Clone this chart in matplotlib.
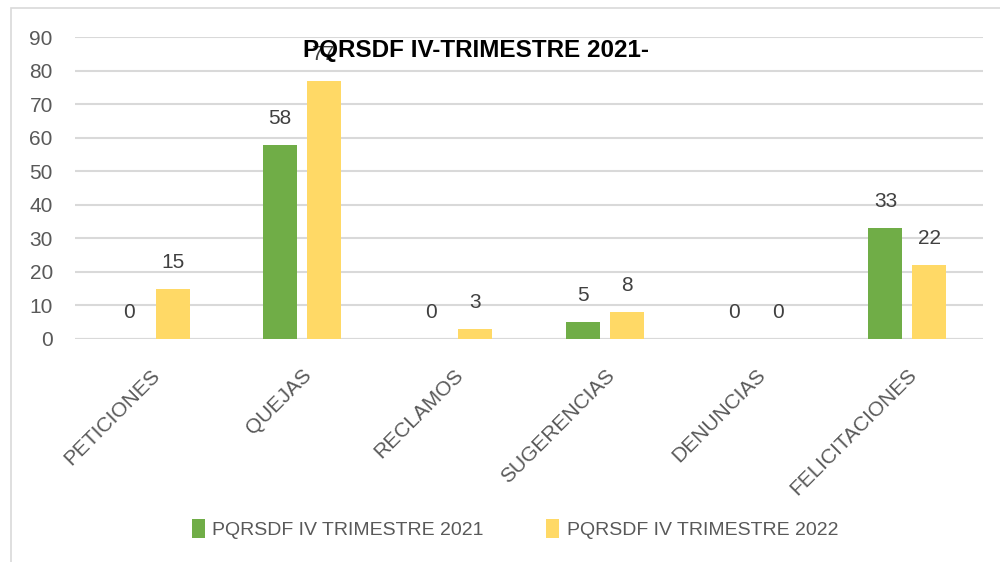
import matplotlib
matplotlib.use("Agg")
import matplotlib.pyplot as plt
import numpy as np
from matplotlib.patches import Rectangle

categorias = ["PETICIONES", "QUEJAS", "RECLAMOS", "SUGERENCIAS", "DENUNCIAS", "FELICITACIONES"]
valores_2021 = [0, 58, 0, 5, 0, 33]
valores_2022 = [15, 77, 3, 8, 0, 22]
serie_2021 = "PQRSDF IV TRIMESTRE 2021"
serie_2022 = "PQRSDF IV TRIMESTRE 2022"
titulo = "PQRSDF IV-TRIMESTRE 2021-"
y_ticks = list(range(0, 100, 10))

plt.rcParams['font.family'] = ['Liberation Sans', 'DejaVu Sans']

verde = "#70AD47"
amarillo = "#FFD966"
gris_txt = "#595959"

fig = plt.figure(figsize=(10, 5.62), dpi=100)
# marco del grafico
fig.patches.append(Rectangle((0.011, -0.1), 1.2, 1.1 - 0.014, transform=fig.transFigure,
                             fill=False, edgecolor="#D9D9D9", linewidth=1.2))
ax = fig.add_axes([0.075, 0.3968, 0.908, 0.537])

x = np.arange(len(categorias))
ancho = 0.225
off = 0.145
b1 = ax.bar(x - off, valores_2021, ancho, color=verde, label=serie_2021, zorder=3)
b2 = ax.bar(x + off, valores_2022, ancho, color=amarillo, label=serie_2022, zorder=3)

for barras in (b1, b2):
    for r in barras:
        h = r.get_height()
        ax.annotate(f"{h:g}", (r.get_x() + r.get_width() / 2, h), xytext=(0, 19),
                    textcoords="offset points", ha="center", va="center",
                    fontsize=15, color="#404040", zorder=2)

ax.set_xlim(-0.5, len(categorias) - 0.5)
ax.set_ylim(0, 90)
ax.set_yticks(y_ticks)
ax.grid(axis="y", color="#D9D9D9", linewidth=1.5, zorder=0)
for s in ax.spines.values():
    s.set_visible(False)
ax.axhline(0, color="#D9D9D9", linewidth=1.5, zorder=1)
ax.tick_params(axis="both", length=0, labelsize=15, labelcolor=gris_txt)
ax.tick_params(axis="y", pad=16)
ax.set_xticks(x)
ax.set_xticklabels(categorias, rotation=45, ha="right", va="top", rotation_mode="anchor")
ax.tick_params(axis="x", pad=19)

fig.text(0.476, 0.91, titulo, ha="center", va="center", fontsize=17.5,
         fontweight="bold", color="black")

fig.legend(handles=[b1, b2], loc="center", bbox_to_anchor=(0.515, 0.058), ncol=2,
           frameon=False, fontsize=14, labelcolor=gris_txt, handlelength=0.65,
           handleheight=1.1, handletextpad=0.4, columnspacing=3.2)

fig.savefig("out.png", dpi=100)
